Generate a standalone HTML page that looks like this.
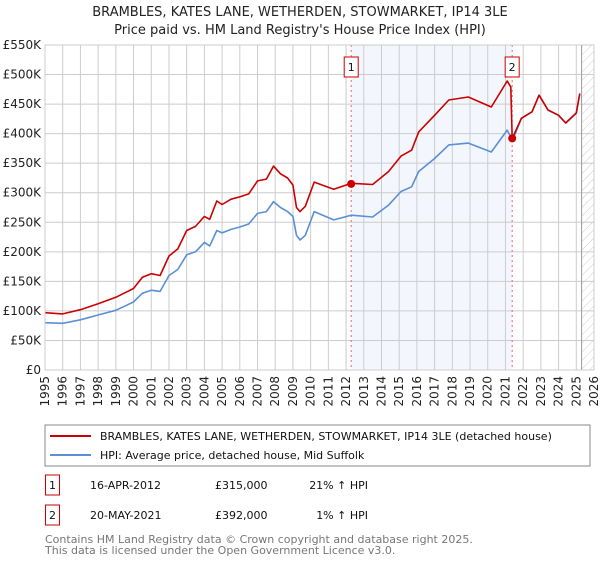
<!DOCTYPE html>
<html><head><meta charset="utf-8"><style>
body{margin:0;background:#fff;font-family:"DejaVu Sans","Liberation Sans",sans-serif;}
svg text{font-family:"DejaVu Sans","Liberation Sans",sans-serif;}
</style></head><body>
<svg id="c" width="600" height="560" viewBox="0 0 600 560" xmlns="http://www.w3.org/2000/svg">
<text x="300" y="16" text-anchor="middle" font-size="13" fill="#222">BRAMBLES, KATES LANE, WETHERDEN, STOWMARKET, IP14 3LE</text>
<text x="300" y="34" text-anchor="middle" font-size="13" fill="#222">Price paid vs. HM Land Registry's House Price Index (HPI)</text>
<g id="plot"></g>
<rect x="45" y="425" width="545" height="41" fill="#fff" stroke="#888"/>
<line x1="50" y1="436" x2="91" y2="436" stroke="#cc0000" stroke-width="2"/>
<text x="100" y="440" font-size="11" fill="#111">BRAMBLES, KATES LANE, WETHERDEN, STOWMARKET, IP14 3LE (detached house)</text>
<line x1="50" y1="455" x2="91" y2="455" stroke="#5b8fd6" stroke-width="2"/>
<text x="100" y="459" font-size="11" fill="#111">HPI: Average price, detached house, Mid Suffolk</text>
<rect x="45.5" y="475" width="14" height="20" fill="#fff" stroke="#cc0000"/>
<text x="52.5" y="489" text-anchor="middle" font-size="11" fill="#111">1</text>
<text x="90" y="489" font-size="11" fill="#111">16-APR-2012</text>
<text x="215" y="489" font-size="11" fill="#111">£315,000</text>
<text x="368" y="489" text-anchor="end" font-size="11" fill="#111">21% ↑ HPI</text>
<rect x="45.5" y="505" width="14" height="20" fill="#fff" stroke="#cc0000"/>
<text x="52.5" y="519" text-anchor="middle" font-size="11" fill="#111">2</text>
<text x="90" y="519" font-size="11" fill="#111">20-MAY-2021</text>
<text x="215" y="519" font-size="11" fill="#111">£392,000</text>
<text x="368" y="519" text-anchor="end" font-size="11" fill="#111">1% ↑ HPI</text>
<text x="45" y="543" font-size="11" fill="#777">Contains HM Land Registry data © Crown copyright and database right 2025.</text>
<text x="45" y="554" font-size="11" fill="#777">This data is licensed under the Open Government Licence v3.0.</text>
</svg>
<script>
const hpiYears=[1995,1996,1997,1998,1999,2000,2000.5,2001,2001.5,2002,2002.5,2003,2003.5,2004,2004.3,2004.7,2005,2005.5,2006,2006.5,2007,2007.5,2007.9,2008.3,2008.7,2009.0,2009.2,2009.4,2009.7,2010.2,2011.3,2012.3,2013.5,2014.4,2015.1,2015.7,2016.1,2017.0,2017.8,2018.9,2020.2,2021.1,2021.4,2021.9,2022.5,2022.9,2023.4,2024.0,2024.4,2025.0,2025.2];
const hpiValues=[80,79,85,93,101,115,130,135,133,160,170,195,200,216,210,236,232,238,242,247,265,268,285,275,268,260,228,220,228,268,254,262,259,279,302,310,336,358,381,384,369,406,388,426,437,465,440,431,418,435,468];
const priceYears=[1995,1996,1997,1998,1999,2000,2000.5,2001,2001.5,2002,2002.5,2003,2003.5,2004,2004.3,2004.7,2005,2005.5,2006,2006.5,2007,2007.5,2007.9,2008.3,2008.7,2009.0,2009.2,2009.4,2009.7,2010.2,2011.3,2012.3,2013.5,2014.4,2015.1,2015.7,2016.1,2017.0,2017.8,2018.9,2020.2,2021.1,2021.3,2021.38,2021.9,2022.5,2022.9,2023.4,2024.0,2024.4,2025.0,2025.2];
const priceValues=[97,95,102,112,123,138,157,163,160,193,205,236,243,260,255,286,280,289,293,298,320,323,345,332,325,313,275,268,277,318,306,316,314,336,362,372,403,431,457,462,445,489,479,392,426,437,465,440,431,418,435,468];
const saleYears=[2012.29,2021.38];
const saleValues=[315,392];
const saleLabels=["1","2"];
const yTicks=[0,50,100,150,200,250,300,350,400,450,500,550];
const yTickLabels=["£0","£50K","£100K","£150K","£200K","£250K","£300K","£350K","£400K","£450K","£500K","£550K"];
const xTicks=[1995,1996,1997,1998,1999,2000,2001,2002,2003,2004,2005,2006,2007,2008,2009,2010,2011,2012,2013,2014,2015,2016,2017,2018,2019,2020,2021,2022,2023,2024,2025,2026];

const NS="http://www.w3.org/2000/svg";
const L=45,R=594,T=45,B=370;
const xS=y=>L+(y-1995)/(2026-1995)*(R-L);
const yS=v=>B-v/550*(B-T);
const g=document.getElementById('plot');
function mk(t,a,p){const e=document.createElementNS(NS,t);for(const k in a)e.setAttribute(k,a[k]);(p||g).appendChild(e);return e;}
// shaded ownership
let sh=mk('rect',{x:xS(saleYears[0]),y:T,width:xS(saleYears[1])-xS(saleYears[0]),height:B-T,fill:'#eef3fc',opacity:0.7});


// hatch
const defs=mk('defs',{});
const pat=mk('pattern',{id:'h',width:6,height:6,patternUnits:'userSpaceOnUse',patternTransform:'rotate(45)'},defs);
mk('line',{x1:0,y1:0,x2:0,y2:6,stroke:'#ccc','stroke-width':1},pat);
let hz=mk('rect',{x:xS(2025.3),y:T,width:R-xS(2025.3),height:B-T,fill:'url(#h)'});


yTicks.forEach((v,i)=>{
  let ln=mk('line',{x1:L,x2:R,y1:yS(v),y2:yS(v),stroke:'#ccc'});
  
  
  let t=mk('text',{x:L-4,y:yS(v)+4,'text-anchor':'end','font-size':12,fill:'#222'});
  t.textContent=yTickLabels[i];
  
  
});
xTicks.forEach(yr=>{
  let ln=mk('line',{x1:xS(yr),x2:xS(yr),y1:T,y2:B,stroke:'#ccc'});
  
  
  const x=xS(yr);
  let t=mk('text',{x:x+4,y:B+6,'text-anchor':'end','font-size':12,fill:'#222',transform:`rotate(-90 ${x+4} ${B+6})`});
  t.textContent=yr;
  
  
});
let ed=mk('line',{x1:xS(2025.3),x2:xS(2025.3),y1:T,y2:B,stroke:'#999'});


saleYears.forEach((yr,i)=>{
  let ln=mk('line',{x1:xS(yr),x2:xS(yr),y1:T,y2:B,stroke:'#e66','stroke-dasharray':'2,3'});
  
  
});
function path(xs,vs,col,name){
  let d=xs.map((x,i)=>(i?'L':'M')+xS(x).toFixed(1)+','+yS(vs[i]).toFixed(1)).join('');
  let p=mk('path',{d:d,fill:'none',stroke:col,'stroke-width':1.6,'stroke-linejoin':'round'});
  
  
}
path(hpiYears,hpiValues,'#5b8fd6','hpi-line');
path(priceYears,priceValues,'#cc0000','price-paid-line');
saleYears.forEach((yr,i)=>{
  let c=mk('circle',{cx:xS(yr),cy:yS(saleValues[i]),r:4,fill:'#cc0000'});
  
  
  const bx=xS(yr)-7;
  let r=mk('rect',{x:bx,y:T+12,width:14,height:20,fill:'#fff',stroke:'#cc0000'});
  
  
  let t=mk('text',{x:xS(yr),y:T+26,'text-anchor':'middle','font-size':11,fill:'#111'});
  t.textContent=saleLabels[i];
  
  
});
let fr=mk('rect',{x:L,y:T,width:R-L,height:B-T,fill:'none',stroke:'#ccc'});


</script>
</body></html>
